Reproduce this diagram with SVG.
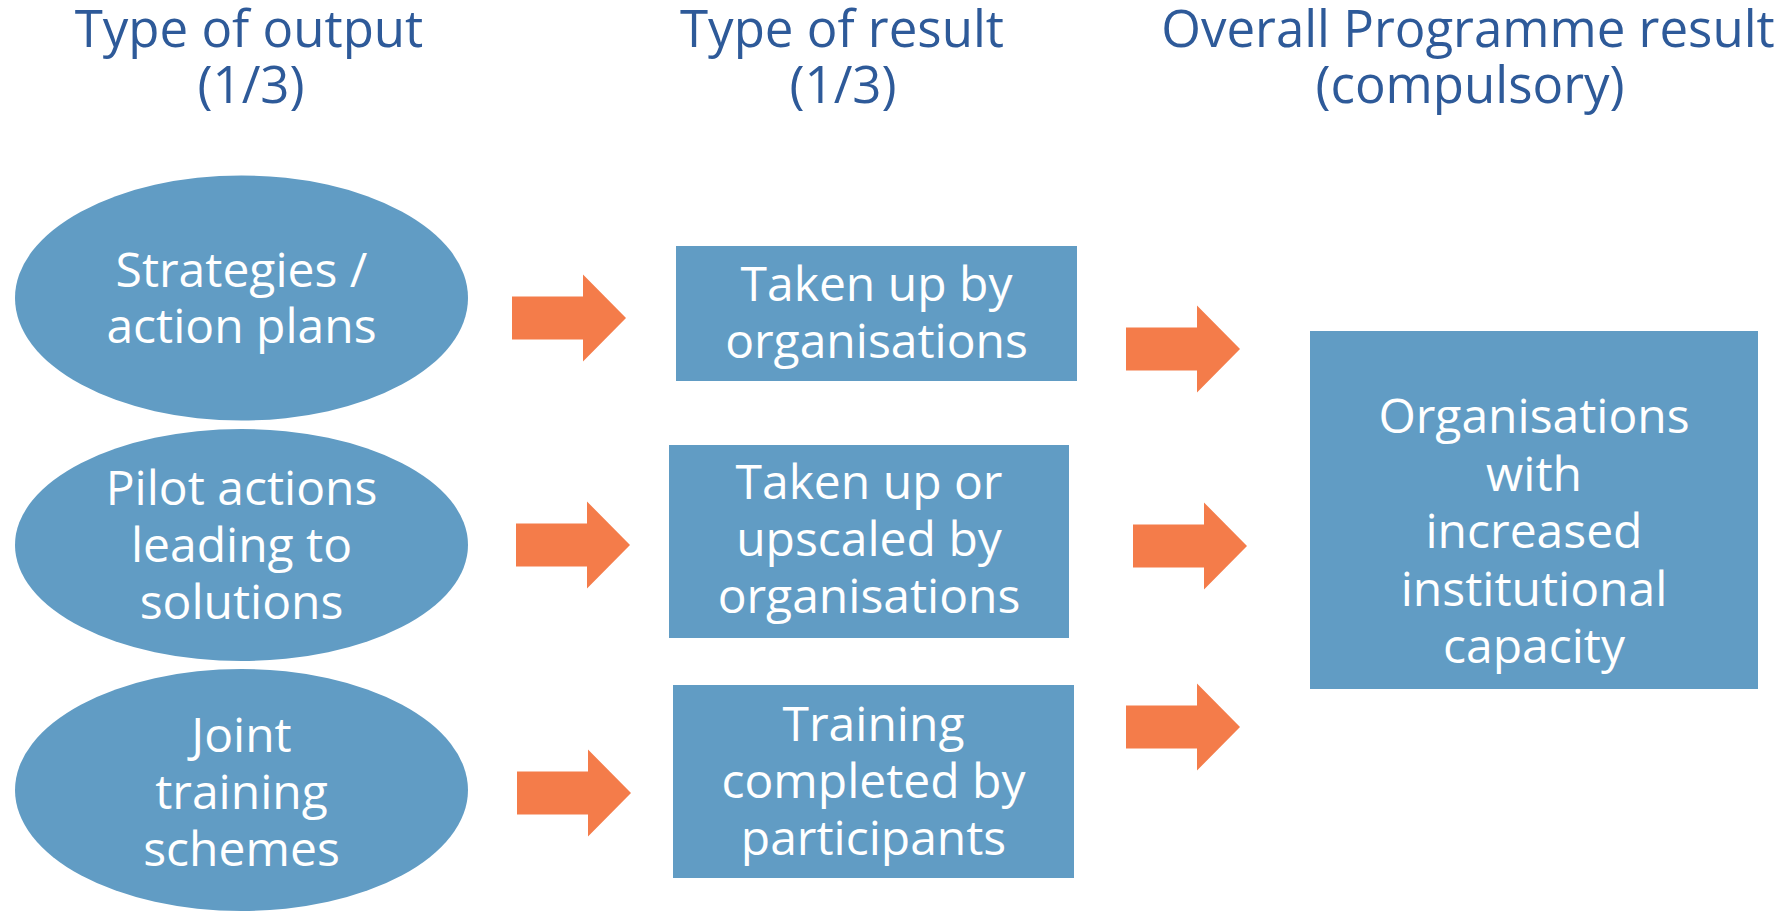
<svg xmlns="http://www.w3.org/2000/svg" width="1791" height="912" viewBox="0 0 1791 912">
<defs>
<style>
.hdr{font-family:"Open Sans","Liberation Sans",sans-serif;font-size:51px;fill:#2E5A99;text-anchor:middle}
.lbl{font-family:"Open Sans","Liberation Sans",sans-serif;font-size:48px;fill:#FFFFFF;text-anchor:middle}
.shape{fill:#619CC4}
.arrow{fill:#F47C4A}
</style>
<path id="arr" d="M0,-21.5 H71 V-43.5 L114,0 L71,43.5 V21.5 H0 Z"/>
</defs>
<rect width="1791" height="912" fill="#FFFFFF"/>
<g id="headers">
<text class="hdr" x="249" y="47">Type of output</text>
<text class="hdr" x="251" y="103">(1/3)</text>
<text class="hdr" x="842" y="47">Type of result</text>
<text class="hdr" x="843" y="103">(1/3)</text>
<text class="hdr" x="1468" y="47">Overall Programme result</text>
<text class="hdr" x="1470" y="103">(compulsory)</text>
</g>
<g id="node-strategies">
<ellipse class="shape" cx="241.5" cy="298" rx="226.5" ry="122.5"/>
<text class="lbl" x="241.5" y="287">Strategies /</text>
<text class="lbl" x="241.5" y="343">action plans</text>
</g>
<g id="node-pilot">
<ellipse class="shape" cx="241.5" cy="545" rx="226.5" ry="116"/>
<text class="lbl" x="241.5" y="505">Pilot actions</text>
<text class="lbl" x="241.5" y="562">leading to</text>
<text class="lbl" x="241.5" y="619">solutions</text>
</g>
<g id="node-joint">
<ellipse class="shape" cx="241.5" cy="790" rx="226.5" ry="121"/>
<text class="lbl" x="241.5" y="752">Joint</text>
<text class="lbl" x="241.5" y="809">training</text>
<text class="lbl" x="241.5" y="866">schemes</text>
</g>
<g id="node-takenup">
<rect class="shape" x="676" y="246" width="401" height="135"/>
<text class="lbl" x="876.5" y="301">Taken up by</text>
<text class="lbl" x="876.5" y="358">organisations</text>
</g>
<g id="node-upscaled">
<rect class="shape" x="669" y="445" width="400" height="193"/>
<text class="lbl" x="869" y="499">Taken up or</text>
<text class="lbl" x="869" y="556">upscaled by</text>
<text class="lbl" x="869" y="613">organisations</text>
</g>
<g id="node-training">
<rect class="shape" x="673" y="685" width="401" height="193"/>
<text class="lbl" x="873.5" y="741">Training</text>
<text class="lbl" x="873.5" y="798">completed by</text>
<text class="lbl" x="873.5" y="855">participants</text>
</g>
<g id="node-capacity">
<rect class="shape" x="1310" y="331" width="448" height="358"/>
<text class="lbl" x="1534" y="433">Organisations</text>
<text class="lbl" x="1534" y="491">with</text>
<text class="lbl" x="1534" y="548">increased</text>
<text class="lbl" x="1534" y="606">institutional</text>
<text class="lbl" x="1534" y="663">capacity</text>
</g>
<g id="connectors">
<use class="arrow" href="#arr" x="512" y="318"/>
<use class="arrow" href="#arr" x="516" y="545"/>
<use class="arrow" href="#arr" x="517" y="793"/>
<use class="arrow" href="#arr" x="1126" y="349"/>
<use class="arrow" href="#arr" x="1133" y="546"/>
<use class="arrow" href="#arr" x="1126" y="727"/>
</g>
</svg>
